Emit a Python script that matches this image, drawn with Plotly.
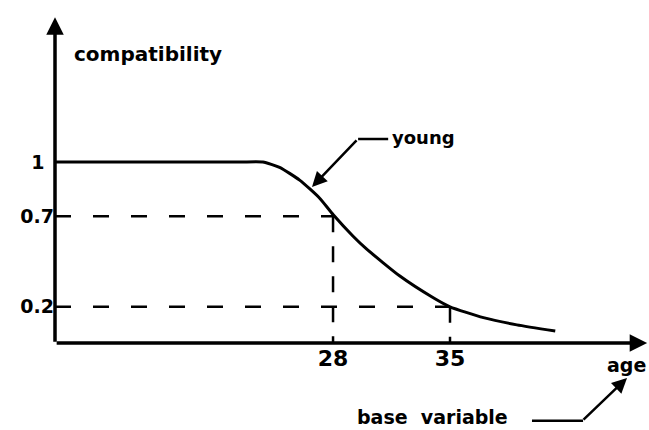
import plotly.graph_objects as go

# ---- data ----
ages = [11.4, 22.4, 23.8, 24.8, 26.0, 27.2, 28.0, 29.2, 30.0, 32.0, 34.0, 35.0, 37.0, 39.0, 41.3]
young = [1.0, 1.0, 1.0, 0.97, 0.90, 0.80, 0.71, 0.59, 0.52, 0.37, 0.25, 0.20, 0.14, 0.10, 0.066]

guide_ages = [28, 35]
guide_values = [0.7, 0.2]

x_tick_vals = [28, 35]
x_tick_text = ["28", "35"]
y_tick_vals = [1, 0.7, 0.2]
y_tick_text = ["1\u2002", "0.7", "0.2"]

XMIN, XMAX = 11.36, 46.91
YMIN, YMAX = 0.0, 1.895

FONT = "DejaVu Sans"
INK = "black"

fig = go.Figure()

# dashed guide lines
for a, v in zip(guide_ages, guide_values):
    fig.add_trace(go.Scatter(x=[XMIN, a], y=[v, v], mode="lines",
                             line=dict(color=INK, width=2.5, dash="16px,22px"),
                             hoverinfo="skip", showlegend=False))
    fig.add_trace(go.Scatter(x=[a, a], y=[v, 0], mode="lines",
                             line=dict(color=INK, width=2.5, dash="16px,14px"),
                             hoverinfo="skip", showlegend=False))

# membership curve "young"
fig.add_trace(go.Scatter(x=ages, y=young, mode="lines",
                         line=dict(color=INK, width=3, shape="spline", smoothing=0.55),
                         hoverinfo="skip", showlegend=False))

annotations = [
    # y axis with arrow
    dict(x=XMIN, y=1.80, xref="x", yref="y", ax=0, ay=326, text="",
         showarrow=True, arrowhead=2, arrowsize=1.0, arrowwidth=3.5, arrowcolor=INK),
    # x axis with arrow
    dict(x=46.8, y=0, xref="x", yref="y", ax=-592, ay=0, text="",
         showarrow=True, arrowhead=2, arrowsize=1.0, arrowwidth=3.5, arrowcolor=INK),
    # young leader
    dict(x=26.74, y=0.862, xref="x", yref="y", ax=46, ay=-48, text="",
         showarrow=True, arrowhead=2, arrowsize=1.2, arrowwidth=2.5, arrowcolor=INK),
    dict(x=31.42, y=1.135, xref="x", yref="y", text="young", showarrow=False,
         xanchor="left", yanchor="middle",
         font=dict(family=FONT, size=18, color=INK, weight="bold")),
    dict(x=16.93, y=1.597, xref="x", yref="y", text="compatibility", showarrow=False,
         xanchor="center", yanchor="middle",
         font=dict(family=FONT, size=20, color=INK, weight="bold")),
    dict(x=0.962, y=-0.064, xref="paper", yref="paper", text="age", showarrow=False,
         xanchor="center", yanchor="middle",
         font=dict(family=FONT, size=19, color=INK, weight="bold")),
    dict(x=0.635, y=-0.216, xref="paper", yref="paper", text="base\u00a0\u00a0variable",
         showarrow=False, xanchor="center", yanchor="middle",
         font=dict(family=FONT, size=19, color=INK, weight="bold")),
    # base variable leader
    dict(x=0.963, y=-0.102, xref="paper", yref="paper", ax=-45, ay=43, text="",
         showarrow=True, arrowhead=2, arrowsize=1.2, arrowwidth=2.5, arrowcolor=INK),
]

shapes = [
    dict(type="line", xref="x", yref="y", x0=29.5, y0=1.127, x1=31.3, y1=1.127,
         line=dict(color=INK, width=2.5)),
    dict(type="line", xref="paper", yref="paper", x0=0.803, y0=-0.227, x1=0.889, y1=-0.227,
         line=dict(color=INK, width=2.5)),
]

fig.update_layout(
    template="none",
    width=649, height=430,
    margin=dict(l=55, r=0, t=0, b=87, pad=0),
    paper_bgcolor="white", plot_bgcolor="white",
    annotations=annotations, shapes=shapes,
    xaxis=dict(range=[XMIN, XMAX], showgrid=False, zeroline=False, showline=False,
               automargin=False,
               tickvals=x_tick_vals, ticktext=x_tick_text, ticks="",
               tickfont=dict(family=FONT, size=22, color=INK, weight="bold")),
    yaxis=dict(range=[YMIN, YMAX], showgrid=False, zeroline=False, showline=False,
               automargin=False,
               tickvals=y_tick_vals, ticktext=y_tick_text, ticks="inside",
               ticklen=6, tickwidth=2, tickcolor=INK,
               tickfont=dict(family=FONT, size=19, color=INK, weight="bold")),
)

fig.write_html(
    "out.html",
    config={"displayModeBar": False},
    post_script="document.body.style.margin='0px';document.body.style.overflow='hidden';",
)
